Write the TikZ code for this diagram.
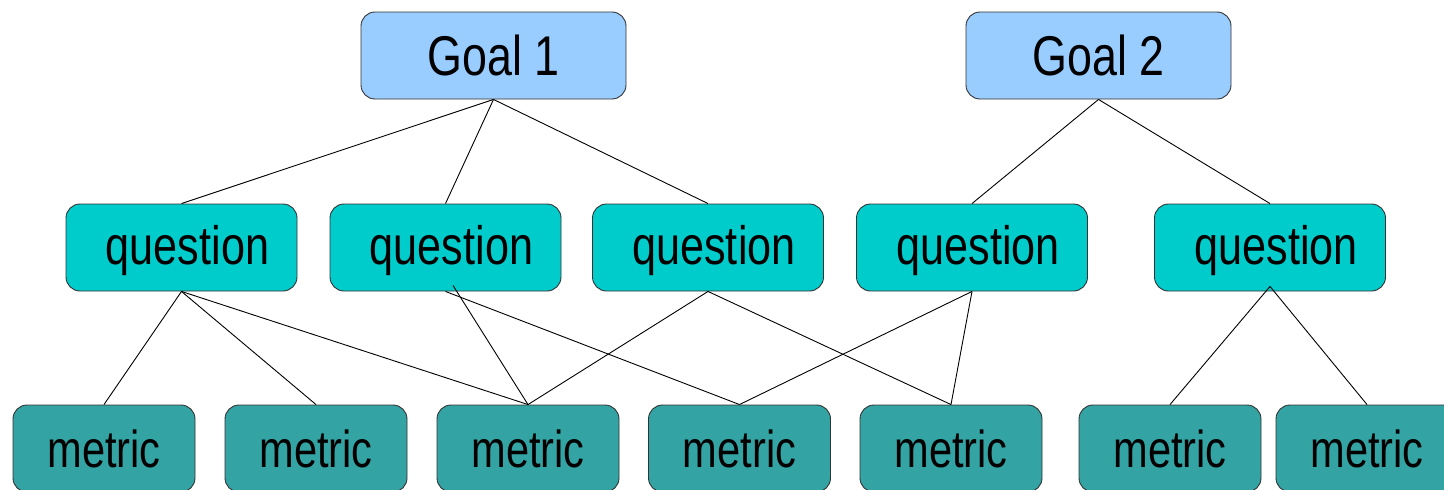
\documentclass[tikz,border=0pt]{standalone}
\usepackage{fontspec}
\setmainfont{Liberation Sans}[FakeStretch=0.8]
\definecolor{goalblue}{HTML}{99CCFF}
\definecolor{questcyan}{HTML}{00CCCC}
\definecolor{metricteal}{HTML}{33A3A3}
\definecolor{boxline}{HTML}{333333}
\begin{document}
\begin{tikzpicture}[x=1pt,y=-1pt,
    box/.style={draw=boxline, line width=0.9pt, rounded corners=14pt,
      inner sep=0pt, minimum height=87pt, text=black},
    goalbox/.style={box, fill=goalblue, minimum width=265pt,
      font=\fontsize{56}{60}\selectfont},
    questionbox/.style={box, fill=questcyan, minimum width=231pt,
      text height=45pt, text depth=11pt,
      execute at begin node=\hspace*{12pt},
      font=\fontsize{54}{58}\selectfont},
    metricbox/.style={box, fill=metricteal, minimum width=182pt,
      font=\fontsize{52}{56}\selectfont},
    link/.style={draw=black, line width=0.9pt}]
  \useasboundingbox (0,0) rectangle (1444,490);
  \clip (0,0) rectangle (1444,490);

  % goals
  \node[goalbox] (g1) at (493.5,55.5) {Goal 1};
  \node[goalbox] (g2) at (1098.5,55.5) {Goal 2};

  % questions
  \node[questionbox] (q1) at (181.5,247.5) {question};
  \node[questionbox] (q2) at (445.5,247.5) {question};
  \node[questionbox] (q3) at (708,247.5) {question};
  \node[questionbox] (q4) at (972,247.5) {question};
  \node[questionbox] (q5) at (1270,247.5) {question};

  % metrics
  \node[metricbox] (m1) at (104,448.5) {metric};
  \node[metricbox] (m2) at (316,448.5) {metric};
  \node[metricbox] (m3) at (528,448.5) {metric};
  \node[metricbox] (m4) at (739.5,448.5) {metric};
  \node[metricbox] (m5) at (951,448.5) {metric};
  \node[metricbox] (m6) at (1170,448.5) {metric};
  \node[metricbox] (m7) at (1367,448.5) {metric};

  % goal -> question
  \draw[link] (g1.south) -- (q1.north);
  \draw[link] (g1.south) -- (q2.north);
  \draw[link] (g1.south) -- (q3.north);
  \draw[link] (g2.south) -- (q4.north);
  \draw[link] (g2.south) -- (q5.north);

  % question -> metric
  \draw[link] (q1.south) -- (m1.north);
  \draw[link] (q1.south) -- (m2.north);
  \draw[link] (q1.south) -- (m3.north);
  \draw[link] ([xshift=7.5pt,yshift=6pt]q2.south) -- (m3.north);
  \draw[link] (q2.south) -- (m4.north);
  \draw[link] (q3.south) -- (m3.north);
  \draw[link] (q3.south) -- (m5.north);
  \draw[link] (q4.south) -- (m4.north);
  \draw[link] (q4.south) -- (m5.north);
  \draw[link] ([yshift=5pt]q5.south) -- (m6.north);
  \draw[link] ([yshift=5pt]q5.south) -- (m7.north);
\end{tikzpicture}
\end{document}
